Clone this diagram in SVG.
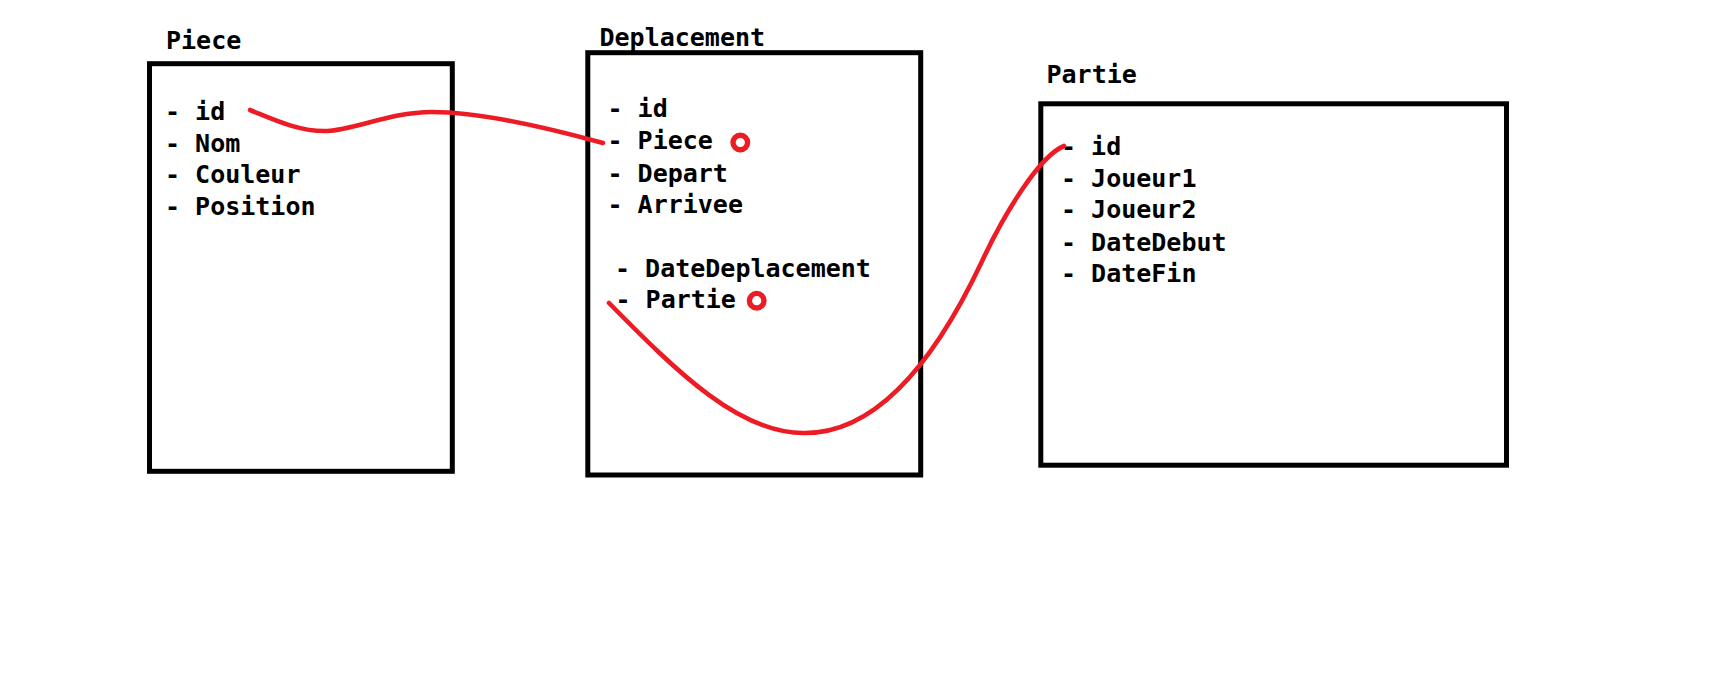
<svg xmlns="http://www.w3.org/2000/svg" width="1731" height="689" viewBox="0 0 1731 689">
<style>
.box{fill:none;stroke:#000;stroke-width:5}
.t{font-family:"DejaVu Sans Mono","Liberation Mono",monospace;font-weight:bold;font-size:25px;fill:#000}
.red{fill:none;stroke:#ED1C24;stroke-width:4.6;stroke-linecap:round;stroke-linejoin:round}
.ring{fill:none;stroke:#ED1C24;stroke-width:5.4}
</style>
<rect width="1731" height="689" fill="#fff"/>
<g id="piece">
<rect class="box" x="149.5" y="63.7" width="302.8" height="407.6"/>
<text class="t" x="166" y="49">Piece</text>
<text class="t" x="165" y="120">- id</text>
<text class="t" x="165" y="151.7">- Nom</text>
<text class="t" x="165" y="183.3">- Couleur</text>
<text class="t" x="165" y="215">- Position</text>
</g>
<g id="deplacement">
<rect class="box" x="587.8" y="52.7" width="332.9" height="422.3"/>
<text class="t" x="599.5" y="46">Deplacement</text>
<text class="t" x="607.5" y="117.3">- id</text>
<text class="t" x="607.5" y="149.3">- Piece</text>
<text class="t" x="607.5" y="181.7">- Depart</text>
<text class="t" x="607.5" y="213.3">- Arrivee</text>
<text class="t" x="615" y="276.7">- DateDeplacement</text>
<text class="t" x="615.5" y="308.3">- Partie</text>
<circle class="ring" cx="740.3" cy="142.5" r="7.3"/>
<circle class="ring" cx="756.7" cy="300.7" r="7.3"/>
</g>
<g id="partie">
<rect class="box" x="1040.8" y="103.8" width="465.7" height="361.4"/>
<text class="t" x="1046.5" y="83">Partie</text>
<text class="t" x="1061" y="155">- id</text>
<text class="t" x="1061" y="186.7">- Joueur1</text>
<text class="t" x="1061" y="218.3">- Joueur2</text>
<text class="t" x="1061" y="250.7">- DateDebut</text>
<text class="t" x="1061" y="282.3">- DateFin</text>
</g>
<g id="connectors">
<path class="red" d="M250,110 C275,120 300,132 327,131 C355,130 390,112 432,112 C480,112 545,127 603,143"/>
<path class="red" d="M609,303 C678,373 740,434 805,433 C905,433 969,288.5 984,257 C1004,215 1039,156 1064,146"/>
</g>
</svg>
